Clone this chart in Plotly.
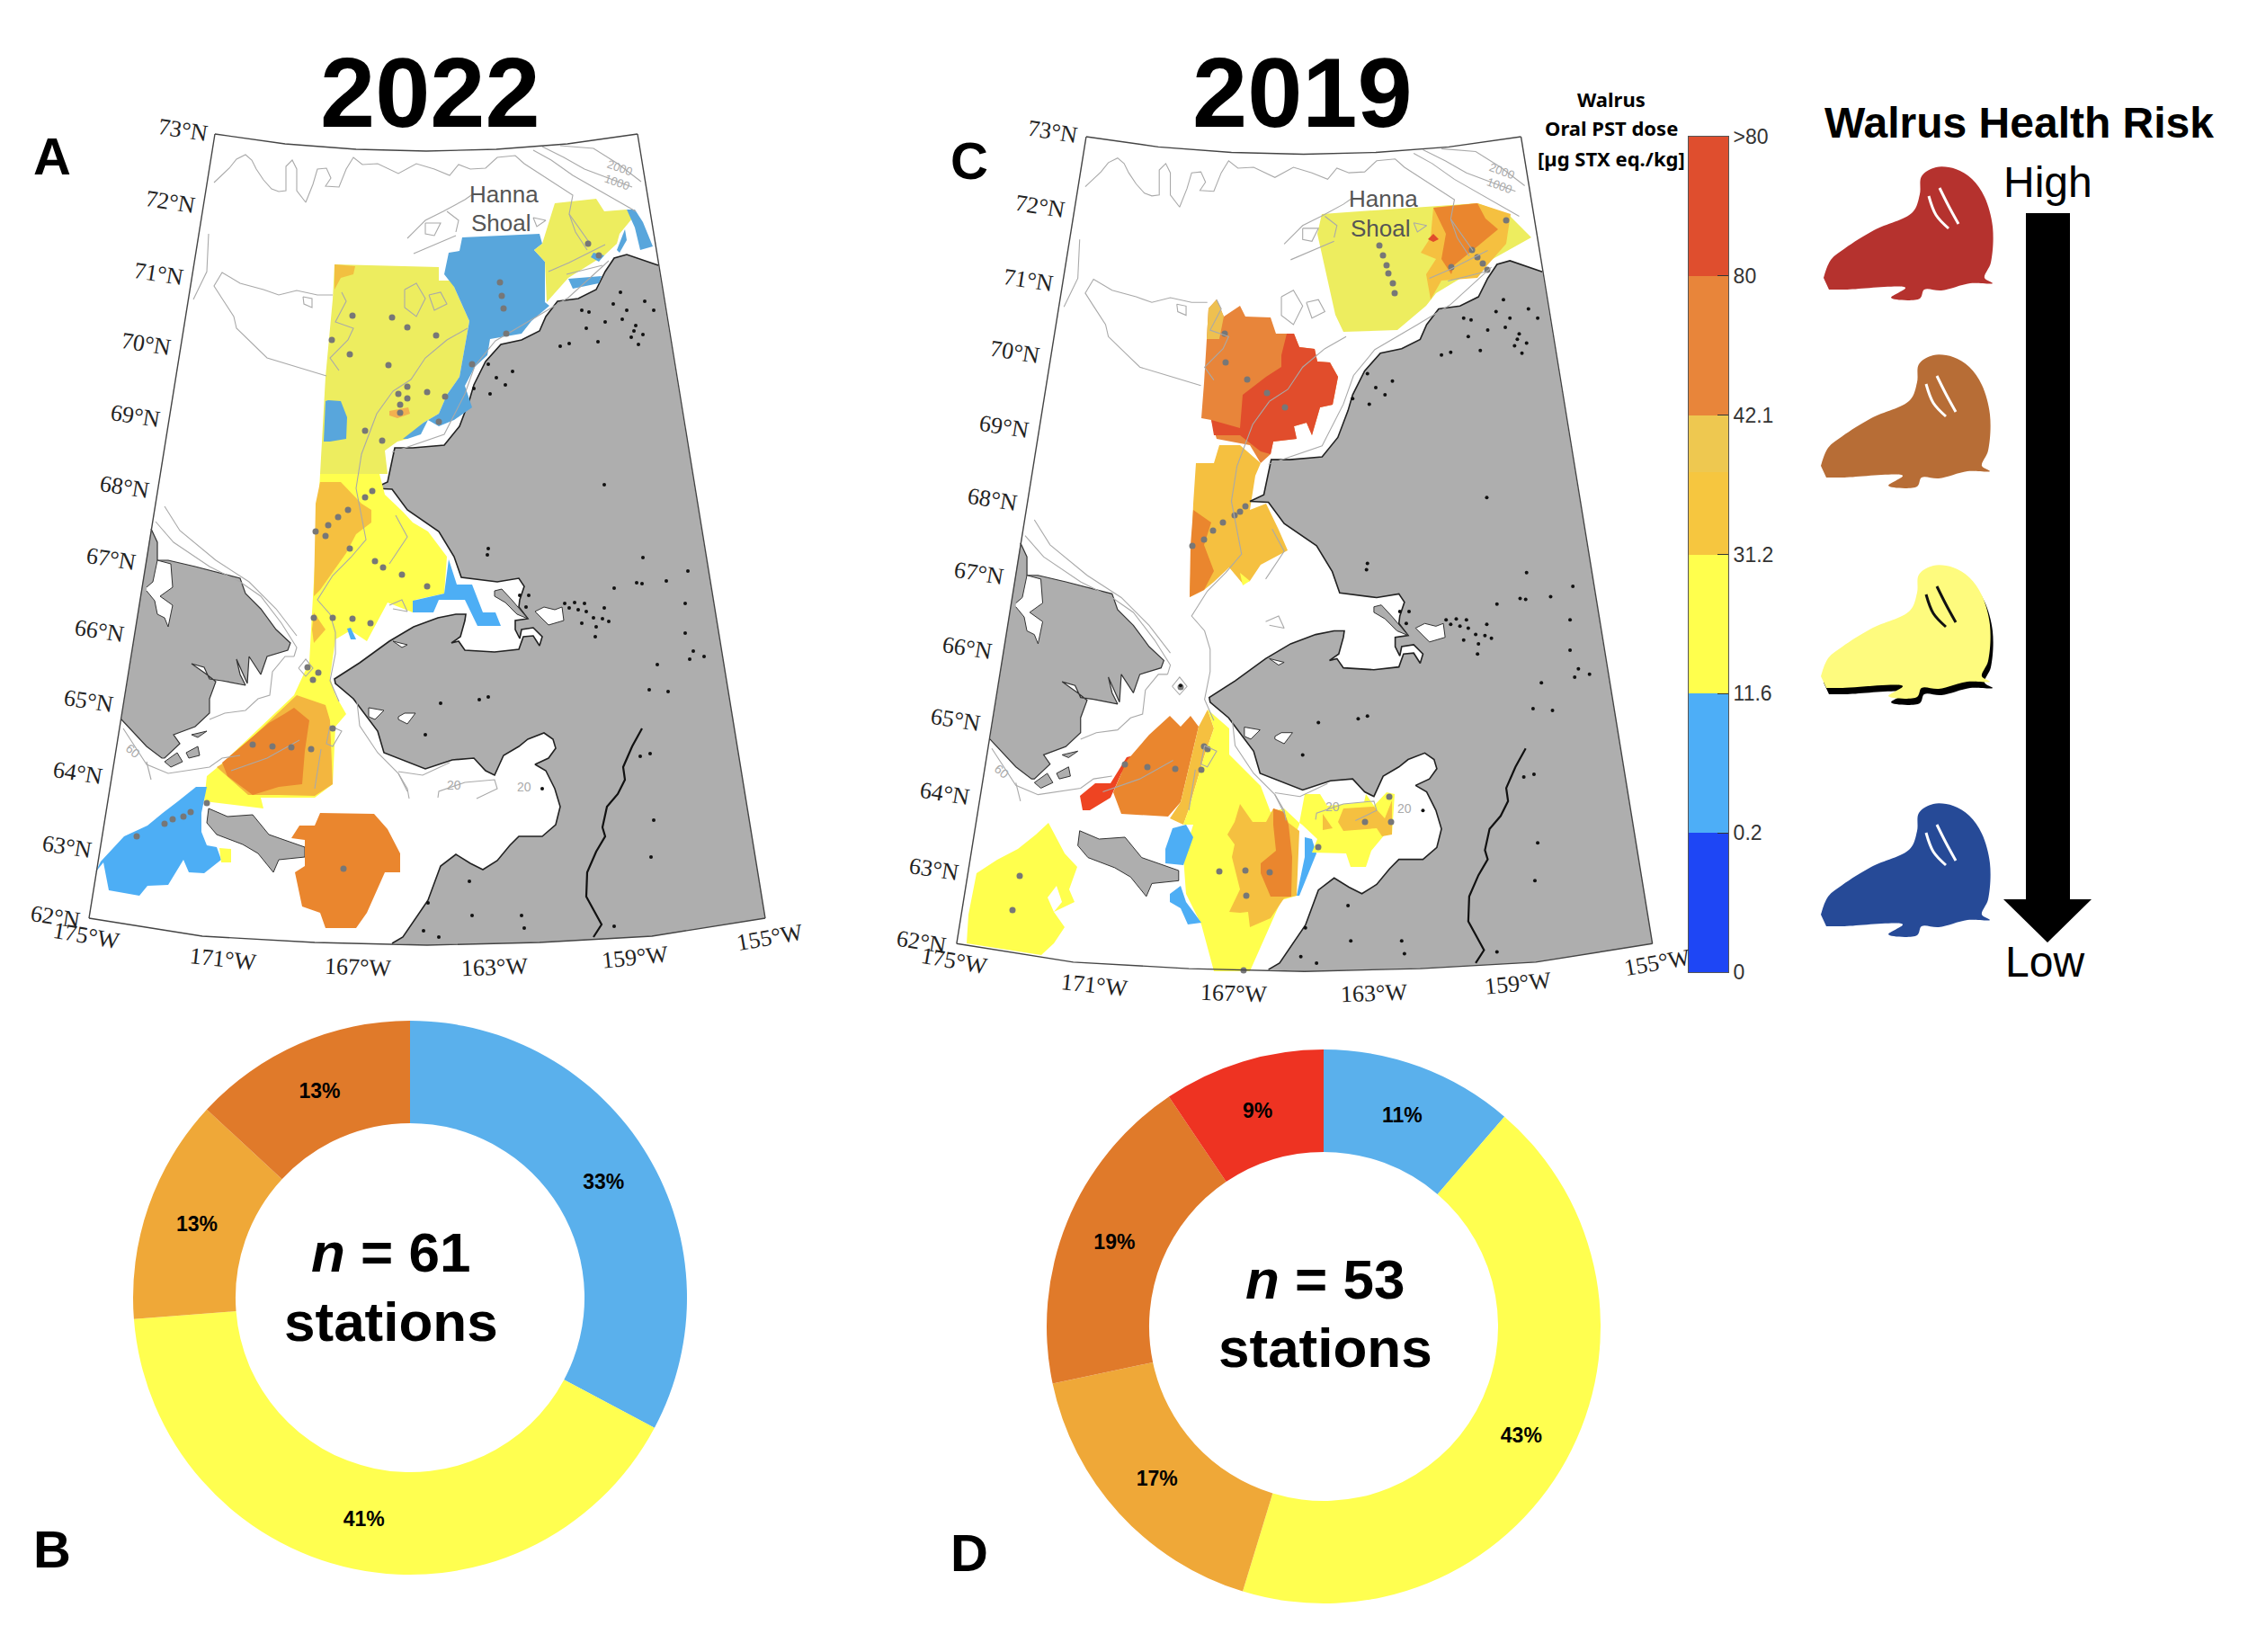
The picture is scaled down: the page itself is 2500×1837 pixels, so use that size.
import plotly.graph_objects as go

# map plane: pixels of the 2022 map, the 2019 map reuses the base through xaxis2/yaxis2
FRAME_TOP = [(239,149),(317,160),(396,166),(474,168),(552,166),(631,160),(709,149)]
FRAME_RIGHT = [(709,149),(851,1021)]
FRAME_BOTTOM = [(851,1021),(725,1041),(600,1048),(475,1051),(350,1048),(225,1041),(99,1021)]
FRAME_LEFT = [(99,1021),(239,149)]

ALASKA = [(732,295),(697,283),(683,287),(673,302),(663,322),(643,332),(620,335),(607,352),(600,368),(580,378),
          (557,383),(540,402),(527,428),(522,445),(511,474),(494,495),(459,498),(439,498),(431,536),(416,543),
          (436,544),(453,567),(488,591),(505,619),(513,642),(553,647),(577,643),(583,652),(578,667),(577,675),
          (587,688),(573,690),(573,700),(578,710),(580,700),(593,698),(603,708),(600,718),(593,707),(582,708),
          (577,722),(550,725),(517,723),(510,713),(502,715),(512,708),(517,690),(518,683),(507,683),(487,687),
          (460,697),(433,713),(400,737),(372,755),(373,760),(393,777),(420,813),(427,837),(473,855),(503,845),
          (527,843),(540,857),(550,862),(560,840),(577,830),(587,822),(605,815),(615,822),(618,832),(610,843),
          (595,850),(607,857),(617,877),(623,897),(618,917),(603,930),(577,930),(567,940),(553,957),(537,967),
          (523,960),(507,950),(490,963),(480,990),(476,1001),(448,1042),(436,1049),(475,1051),(600,1048),
          (725,1041),(851,1021)]
BALDWIN = [(550,657),(558,655),(570,668),(587,688),(575,683),(562,670),(550,663)]
SELAWIK_LAKE = [(595,680),(605,675),(617,678),(625,675),(627,690),(610,695)]
SEWARD_LAKE_1 = [(410,787),(427,790),(417,800),(410,797)]
SEWARD_LAKE_2 = [(443,797),(450,793),(462,793),(453,805),(443,800)]
SEWARD_LAKE_3 = [(437,713),(453,717),(447,720)]
CHUKOTKA = [(168,588),(175,603),(175,623),(187,623),(217,630),(247,638),(267,643),(273,660),(290,677),(307,700),
            (323,715),(320,723),(297,730),(290,750),(277,730),(275,760),(263,733),(267,750),(273,762),(247,757),
            (233,755),(227,742),(213,738),(230,750),(240,758),(233,777),(233,793),(217,808),(193,817),(200,827),
            (183,843),(180,843),(163,830),(135,800)]
KOLYUCHIN_BAY = [(163,653),(170,647),(175,623),(190,627),(192,653),(178,663),(192,673),(187,697),(183,687),(175,683),
                 (172,668),(163,657)]
ANADYR_ISLAND_1 = [(183,847),(197,837),(203,847),(190,853)]
ANADYR_ISLAND_2 = [(207,837),(220,830),(222,840),(210,843)]
ANADYR_ISLAND_3 = [(213,817),(230,813),(220,820)]
ST_LAWRENCE = [(232,899),(253,908),(281,906),(299,928),(339,942),(339,953),(310,956),(304,970),(287,949),(270,939),
               (241,928),(230,915)]
YUKON = [(714,810),(703,830),(693,853),(695,867),(687,883),(675,897),(670,920),(673,930),(663,947),(653,970),(652,997),
         (669,1028),(660,1042)]

CONTOURS = [
    [(238,203),(255,187),(263,177),(273,172),(280,178),(285,188),(293,200),(302,210),(310,213),(318,212),(318,185),
     (325,178),(330,188),(330,212),(340,225),(348,205),(353,188),(363,187),(368,198),(362,207),(377,208),(385,188),
     (393,175),(403,183),(420,182),(443,193),(463,182),(483,188),(500,195),(510,183),(523,188),(540,187),(553,175),
     (573,173),(583,182),(603,195),(623,208),(637,217),(633,238),(640,258),(653,278)],
    [(593,167),(613,178),(637,195),(660,208),(690,225),(707,235)],
    [(603,163),(627,175),(650,188),(677,198),(703,208)],
    [(623,162),(660,165),(687,182),(713,202)],
    [(370,328),(353,328),(330,323),(310,328),(293,322),(267,315),(247,303),(238,318),(247,332),(260,352),(263,365),
     (280,382),(297,398),(330,408),(363,418)],
    [(337,330),(347,332),(347,342),(338,338),(337,330)],
    [(453,265),(473,245),(493,235),(517,222),(527,215)],
    [(460,282),(483,272),(507,262)],
    [(473,248),(490,248),(483,262),(473,260),(473,248)],
    [(497,235),(510,245),(507,258)],
    [(593,242),(607,245),(597,252),(593,242)],
    [(380,325),(385,335),(373,358),(393,365),(387,378),(367,398),(377,412)],
    [(450,322),(463,315),(473,332),(463,352),(450,342),(450,322)],
    [(477,328),(490,325),(497,338),(483,345),(477,328)],
    [(520,365),(497,378),(473,398),(457,422),(437,435)],
    [(232,260),(230,302),(215,333)],
    [(633,238),(647,258),(657,272)],
    [(610,302),(633,292),(673,272)],
    [(630,305),(670,295)],
    [(677,290),(632,331),(597,352),(551,379),(528,407),(517,438),(494,483),(453,497),(436,503)],
    [(437,435),(419,460),(402,505),(396,543),(407,600),(390,620),(370,640),(353,667),(367,683),(373,703),(373,727),
     (367,757),(377,780)],
    [(433,627),(453,597),(440,573)],
    [(433,673),(447,667),(453,680),(437,677)],
    [(173,580),(193,603),(233,630),(267,647),(290,663),(313,693),(330,720),(327,730)],
    [(183,563),(200,590),(240,623),(277,647),(307,677),(330,707)],
    [(233,800),(250,793),(273,790),(287,777),(300,773),(303,747),(317,730),(327,730)],
    [(137,810),(163,850),(187,860),(233,853),(247,843),(267,840)],
    [(163,847),(168,867)],
    [(257,857),(297,843),(333,823)],
    [(357,833),(353,860),(350,877)],
    [(397,780),(400,807),(420,837),(443,860),(453,880)],
    [(367,807),(380,813),(370,830),(363,827),(367,807)],
    [(332,743),(340,733),(348,743),(340,752),(332,743)],
    [(487,887),(488,880),(517,870),(550,867),(553,877),(530,888)],
    [(443,860),(453,877),(455,888)],
    [(443,858),(470,862),(500,848)],
]
ISLET_X = [543,542,715,765,741,708,714,683,762,628,639,650,672,633,643,652,660,670,677,647,663,662,762,771,767,783,
           731,722,743,490,473,712,723,727,724,533,543,603,578,588,585,471,476,488,522,525,580,583,683,647,655,682,
           697,673,692,652,623,633,665,702,710,705,717,727,690,707,715,570,562,552,543,545,527,672,341]
ISLET_Y = [610,617,620,635,646,648,649,654,671,671,670,671,676,676,678,680,687,688,691,693,697,708,704,724,733,730,
           739,767,769,782,817,841,838,912,953,778,775,877,662,662,675,1035,1004,1042,980,1018,1018,1032,1030,345,347,
           338,345,358,355,365,385,382,380,375,383,368,335,345,325,362,372,413,428,420,405,438,432,539,742]

# 2022 regions, pixels of the left map
A_GREEN = [(372,294),(488,297),(488,312),(502,312),(505,319),(522,357),(511,419),(497,439),(488,460),(471,470),
           (453,488),(442,491),(428,501),(431,527),(356,527),(362,419),(370,333)]
A_GREEN_TOPLEFT = [(372,294),(395,296),(393,305),(379,309),(372,322)]
A_SPOT = [(433,457),(454,453),(456,460),(442,465),(433,462)]
A_BLUE_LEFT = [(365,445),(379,446),(386,464),(385,488),(367,491),(360,491),(362,446)]
A_BLUE_MAIN = [(514,264),(600,260),(603,271),(594,278),(606,291),(606,336),(611,340),(591,357),(580,371),(545,377),
               (542,395),(528,408),(517,429),(525,453),(505,467),(488,474),(476,467),(468,483),(453,488),(448,488),
               (471,470),(488,460),(497,439),(511,419),(522,357),(505,319),(494,305),(499,281),(511,279)]
A_GREEN_NE = [(617,226),(663,221),(672,235),(697,233),(703,243),(689,260),(686,271),(672,284),(632,309),(617,326),
              (608,336),(606,291),(594,278),(603,271)]
A_BLUE_NE1 = [(632,310),(669,307),(666,315),(637,321)]
A_BLUE_NE2 = [(697,233),(706,233),(715,247),(726,274),(712,278),(706,253)]
A_BLUE_NE3 = [(695,255),(697,267),(689,281),(686,278)]
A_BLUE_NE4 = [(660,281),(672,284),(666,291),(657,286)]
A_YELLOW = [(356,527),(422,527),(428,550),(448,569),(459,581),(476,591),(497,619),(494,660),(462,667),(459,681),
            (431,670),(416,698),(408,713),(390,701),(373,711),(367,753),(373,773),(385,794),(373,808),(370,872),
            (350,887),(359,901),(350,887),(290,887),(293,899),(227,891),(230,863),(247,849),(327,773),(344,736),
            (347,681)]
A_AMBER_NORTH = [(356,536),(379,536),(402,560),(413,567),(413,581),(396,594),(385,615),(356,656),(349,663),(351,560)]
A_AMBER_STRIP = [(349,681),(362,700),(349,715),(347,700)]
A_AMBER_SOUTH = [(330,773),(362,784),(367,801),(370,872),(350,885),(310,884),(276,884),(241,853),(253,846)]
A_ORANGE_STRAIT = [(327,787),(344,801),(339,835),(336,872),(310,875),(281,884),(253,863),(247,848),(299,804),(316,794)]
A_BLUE_SW = [(218,875),(230,875),(224,904),(224,925),(230,940),(241,942),(246,956),(227,971),(210,970),(204,956),
             (187,984),(164,985),(155,996),(121,990),(115,959),(106,970),(112,958),(123,946),(138,930),(164,918),
             (181,904),(198,891)]
A_YELLOW_TIP = [(244,943),(257,944),(257,959),(246,959)]
A_ORANGE_SOUTH = [(356,904),(416,905),(431,922),(445,949),(445,970),(428,970),(408,1015),(396,1032),(362,1032),
                  (356,1015),(336,1008),(328,970),(339,963),(339,934),(324,932),(333,918),(350,918)]
A_BLUE_KOTZEBUE = [(499,622),(494,660),(459,668),(459,681),(482,681),(488,667),(517,667),(531,696),(557,696),
                   (551,681),(537,681),(525,650),(508,650)]
A_BLUE_SMALL = [(386,699),(390,698),(396,711),(390,711)]

A_STATION_X = [556,558,560,563,392,436,453,485,369,389,432,453,443,453,475,495,445,445,406,425,525,488,654,666,406,
               387,376,414,365,351,362,389,417,426,447,475,349,370,392,412,354,348,281,303,324,346,370,230,212,204,
               192,183,152,382,342]
A_STATION_Y = [314,329,343,371,351,353,364,373,378,394,406,430,438,443,436,441,450,459,479,490,405,469,271,284,553,
               567,575,546,584,591,596,610,624,631,639,652,687,687,688,693,748,756,828,830,831,833,810,893,903,908,
               911,916,930,966,742]

# 2019 regions, pixels of the right map
C_GREEN_NE = [(1470,238),(1643,226),(1677,238),(1703,264),(1660,288),(1597,326),(1586,340),(1554,367),(1494,369),
              (1485,350),(1465,260)]
C_AMBER_NE = [(1594,231),(1643,226),(1680,238),(1675,271),(1654,295),(1643,309),(1603,312),(1591,333),(1586,305),
              (1597,288),(1580,281),(1591,264)]
C_ORANGE_NE = [(1594,231),(1643,226),(1652,243),(1666,255),(1643,274),(1617,295),(1614,305),(1603,288),(1608,260)]
C_RED_NE = [(1594,260),(1600,266),(1594,269),(1588,266)]
C_ORANGE_MID = [(1353,333),(1361,352),(1379,340),(1385,352),(1413,353),(1419,371),(1439,371),(1445,386),(1462,388),
                (1465,402),(1479,403),(1488,419),(1482,450),(1468,453),(1459,484),(1453,470),(1439,474),(1442,488),
                (1416,491),(1413,505),(1402,515),(1390,495),(1353,488),(1347,467),(1336,465),(1339,426),(1342,377),
                (1344,343)]
C_RED_MID = [(1431,371),(1439,371),(1445,386),(1462,388),(1465,402),(1479,403),(1488,419),(1482,450),(1468,453),
             (1459,484),(1453,470),(1439,474),(1442,488),(1416,491),(1413,505),(1402,502),(1379,484),(1350,484),
             (1347,467),(1379,476),(1382,439),(1408,419),(1425,408),(1425,395)]
C_AMBER_TOP = [(1353,333),(1361,352),(1356,377),(1342,377),(1344,343)]
C_AMBER_MID = [(1356,495),(1379,495),(1402,515),(1396,529),(1390,567),(1408,560),(1422,589),(1432,612),(1402,628),
               (1390,646),(1382,649),(1367,631),(1350,647),(1339,656),(1323,664),(1327,560),(1330,515),(1350,515)]
C_ORANGE_STRIP = [(1327,567),(1347,581),(1339,606),(1350,635),(1339,656),(1323,664),(1324,606)]
C_YELLOW_BIT = [(1379,637),(1390,646),(1382,651)]
C_RED_STRAIT = [(1253,842),(1261,840),(1247,860),(1235,887),(1212,901),(1204,901),(1201,885),(1218,871),(1235,871)]
C_ORANGE_STRAIT = [(1301,796),(1313,808),(1324,796),(1333,808),(1313,892),(1299,908),(1247,905),(1238,881),
                   (1253,846),(1278,817)]
C_AMBER_STRAIT = [(1343,789),(1350,810),(1339,842),(1321,903),(1316,917),(1301,910),(1313,892),(1333,808)]
C_YELLOW_CENTER = [(1343,789),(1367,810),(1367,839),(1402,874),(1413,903),(1428,899),(1445,915),(1445,917),
                   (1436,939),(1442,996),(1425,1001),(1390,1080),(1350,1080),(1336,1028),(1319,994),(1316,953),
                   (1327,917),(1316,917),(1321,903),(1339,842),(1350,810)]
C_AMBER_CENTER = [(1379,894),(1393,914),(1408,914),(1416,899),(1428,903),(1433,915),(1445,924),(1442,996),(1428,999),
                  (1413,1021),(1390,1031),(1388,1014),(1379,1015),(1367,1014),(1379,989),(1370,953),(1373,939),
                  (1365,928),(1373,914)]
C_ORANGE_CENTER = [(1416,899),(1428,903),(1433,917),(1437,953),(1436,997),(1413,997),(1402,971),(1402,960),(1419,946),
                   (1416,917)]
C_BLUE_STRIP = [(1451,931),(1459,933),(1464,949),(1445,996),(1442,996),(1451,953)]
C_BLUE_LEFT = [(1304,921),(1319,917),(1327,931),(1316,962),(1296,960),(1296,944)]
C_BLUE_LOWER = [(1313,985),(1319,1003),(1336,1026),(1321,1028),(1313,1010),(1301,1003),(1301,994)]
C_YELLOW_EAST = [(1451,883),(1468,883),(1476,896),(1517,892),(1519,883),(1528,896),(1542,881),(1551,883),(1548,928),
                 (1540,928),(1525,946),(1519,964),(1502,964),(1497,949),(1459,948),(1465,933),(1448,917),(1445,915)]
C_AMBER_EAST = [(1494,899),(1528,897),(1540,910),(1548,890),(1548,928),(1537,930),(1531,921),(1494,924),(1488,914)]
C_AMBER_EAST2 = [(1471,905),(1482,921),(1471,923)]
C_YELLOW_SW = [(1166,915),(1184,949),(1198,964),(1189,989),(1195,1003),(1172,1014),(1184,1031),(1172,1049),(1158,1062),
               (1075,1049),(1077,1017),(1086,971),(1109,956),(1132,944),(1152,928)]
C_SW_HOLE = [(1175,985),(1181,1003),(1172,1014),(1165,998)]

C_STATION_X = [1534,1538,1542,1544,1549,1551,1675,1637,1643,1649,1654,1614,1362,1363,1387,1409,1429,1385,1379,1373,
               1360,1349,1339,1326,1339,1343,1336,1307,1276,1251,1518,1547,1545,1466,1356,1385,1412,1386,1134,1126,
               1313,1383]
C_STATION_Y = [273,284,295,304,315,326,245,278,286,293,300,297,371,403,422,437,453,563,569,573,581,590,600,607,830,
               833,856,855,853,850,914,914,886,942,969,968,970,996,974,1012,764,1079]

LAT_LABELS = ["73°N","72°N","71°N","70°N","69°N","68°N","67°N","66°N","65°N","64°N","63°N","62°N"]
LAT_X = [203,189,176,162,150,138,123,110,98,86,74,61]
LAT_Y = [144,224,304,382,462,541,621,701,779,859,941,1019]
LON_LABELS = ["175°W","171°W","167°W","163°W","159°W","155°W"]
LON_X = [96,248,398,550,706,856]
LON_Y = [1040,1066,1075,1075,1064,1042]
LON_ANGLE = [10,6,2,-2,-6,-10]

# station counts behind the donut shares
PIE_LABELS_2022 = ["0.2-11.6", "11.6-31.2", "31.2-42.1", "42.1-80"]
PIE_2022 = [20, 25, 8, 8]
PIE_LABELS_2019 = ["0.2-11.6", "11.6-31.2", "31.2-42.1", "42.1-80", ">80"]
PIE_2019 = [6, 23, 9, 10, 5]

CBAR_STEPS = [1, 1, 1, 0.59, 0.41, 1, 1]
CBAR_TICKS = ["0", "0.2", "11.6", "31.2", "42.1", "80", ">80"]

WALRUS = [(0,123),(8,103),(24,90),(56,70),(99,50),(107,30),(109,10),(125,0),(147,2),(165,13),(179,33),(188,66),
          (186,106),(179,123),(188,129),(163,129),(131,137),(112,136),(107,146),(75,145),(91,134),(24,136),(6,136)]
TUSK_1 = [(117,32),(125,53),(139,68)]
TUSK_2 = [(129,23),(139,43),(150,63)]
WALRUS_LEFT = [2028,2025,2025,2025]
WALRUS_TOP = [186,395,629,894]
ARROW = [(2253,237),(2302,237),(2302,1000),(2326,1000),(2277,1048),(2228,1000),(2253,1000)]

BLUE = "#4DAEF5"
MAP_BLUE = "#58A6DC"
GREEN = "#EDED5F"
YELLOW = "#FFFF4D"
AMBER = "#F5C040"
ORANGE = "#EA862E"
RED = "#E14D2C"
LAND = "#AEAEAE"

fig = go.Figure()


def poly(points, color, xa="x", ya="y", shape="linear"):
    fig.add_trace(go.Scatter(x=[p[0] for p in points], y=[p[1] for p in points], mode="lines", fill="toself",
                             fillcolor=color, line=dict(width=0, shape=shape), xaxis=xa, yaxis=ya, hoverinfo="skip"))


def line(points, color, width, xa="x", ya="y", shape="linear"):
    fig.add_trace(go.Scatter(x=[p[0] for p in points], y=[p[1] for p in points], mode="lines",
                             line=dict(color=color, width=width, shape=shape), xaxis=xa, yaxis=ya, hoverinfo="skip"))


def base_land(xa, ya):
    poly(ALASKA, LAND, xa, ya)
    line(ALASKA[:-4], "#222222", 1.6, xa, ya)
    for lake in (SELAWIK_LAKE, SEWARD_LAKE_1, SEWARD_LAKE_2, SEWARD_LAKE_3):
        poly(lake, "white", xa, ya)
        line(lake + lake[:1], "#333333", 1, xa, ya)
    poly(BALDWIN, LAND, xa, ya)
    line(BALDWIN + BALDWIN[:1], "#333333", 1, xa, ya)
    poly(CHUKOTKA, LAND, xa, ya)
    line(CHUKOTKA, "#333333", 1.2, xa, ya)
    poly(KOLYUCHIN_BAY, "white", xa, ya)
    line(KOLYUCHIN_BAY, "#333333", 1, xa, ya)
    for isl in (ANADYR_ISLAND_1, ANADYR_ISLAND_2, ANADYR_ISLAND_3, ST_LAWRENCE):
        poly(isl, LAND, xa, ya)
        line(isl + isl[:1], "#333333", 1, xa, ya)
    line(YUKON, "#111111", 2.2, xa, ya)


def base_lines(xa, ya):
    for c in CONTOURS:
        line(c, "#A9A9A9", 1.1, xa, ya)
    fig.add_trace(go.Scatter(x=ISLET_X, y=ISLET_Y, mode="markers", marker=dict(color="#111111", size=4),
                             xaxis=xa, yaxis=ya, hoverinfo="skip"))
    for f in (FRAME_TOP, FRAME_RIGHT, FRAME_BOTTOM, FRAME_LEFT):
        line(f, "#444444", 1.4, xa, ya)


# 2022 map
base_land("x", "y")
for pts, col in [(A_GREEN, GREEN), (A_GREEN_TOPLEFT, "#F2C040"), (A_SPOT, "#F2B050"), (A_BLUE_LEFT, MAP_BLUE),
                 (A_BLUE_MAIN, MAP_BLUE), (A_GREEN_NE, GREEN), (A_BLUE_NE1, MAP_BLUE), (A_BLUE_NE2, MAP_BLUE),
                 (A_BLUE_NE3, MAP_BLUE), (A_BLUE_NE4, MAP_BLUE), (A_YELLOW, YELLOW), (A_AMBER_NORTH, AMBER),
                 (A_AMBER_STRIP, AMBER), (A_AMBER_SOUTH, "#F3B63F"), (A_ORANGE_STRAIT, ORANGE), (A_BLUE_SW, BLUE),
                 (A_YELLOW_TIP, YELLOW), (A_ORANGE_SOUTH, ORANGE), (A_BLUE_KOTZEBUE, BLUE), (A_BLUE_SMALL, BLUE)]:
    poly(pts, col)
base_lines("x", "y")
fig.add_trace(go.Scatter(x=A_STATION_X, y=A_STATION_Y, mode="markers", marker=dict(color="#777777", size=7),
                         hoverinfo="skip"))

# 2019 map: regions sit in the lower layer, base lines come on top through x2/y2
for pts, col in [(C_GREEN_NE, GREEN), (C_AMBER_NE, AMBER), (C_ORANGE_NE, ORANGE), (C_RED_NE, RED),
                 (C_ORANGE_MID, "#E8853A"), (C_RED_MID, RED), (C_AMBER_TOP, "#EEC050"), (C_AMBER_MID, AMBER),
                 (C_ORANGE_STRIP, ORANGE), (C_YELLOW_BIT, YELLOW), (C_RED_STRAIT, "#EE4422"),
                 (C_ORANGE_STRAIT, ORANGE), (C_AMBER_STRAIT, AMBER), (C_YELLOW_CENTER, YELLOW),
                 (C_AMBER_CENTER, AMBER), (C_ORANGE_CENTER, ORANGE), (C_BLUE_STRIP, BLUE), (C_BLUE_LEFT, BLUE),
                 (C_BLUE_LOWER, BLUE), (C_YELLOW_EAST, YELLOW), (C_AMBER_EAST, AMBER), (C_AMBER_EAST2, AMBER),
                 (C_YELLOW_SW, YELLOW), (C_SW_HOLE, "white")]:
    poly(pts, col)
fig.add_trace(go.Scatter(x=C_STATION_X, y=C_STATION_Y, mode="markers", marker=dict(color="#777777", size=7),
                         hoverinfo="skip"))
base_land("x2", "y2")
base_lines("x2", "y2")

# colour bar
bar_colors = ["#1E46F5", "#4DAEF7", "#FFFF4D", "#F6C63F", "#EEC850", "#E8853A", "#DF4E2E"]
for v, c in zip(CBAR_STEPS, bar_colors):
    fig.add_trace(go.Bar(x=[0], y=[v], marker=dict(color=c, line=dict(width=0)), width=1, xaxis="x3", yaxis="y3",
                         hoverinfo="skip"))

# walrus column
walrus_colors = ["#B5322E", "#B76D36", "#FEFB7E", "#264A97"]
tusk_colors = ["white", "white", "#111111", "white"]
for left, top, col, tc in zip(WALRUS_LEFT, WALRUS_TOP, walrus_colors, tusk_colors):
    if col == "#FEFB7E":
        poly([(p[0] + left + 3, p[1] + top + 7) for p in WALRUS], "#000000", shape="spline")
    poly([(p[0] + left, p[1] + top) for p in WALRUS], col, shape="spline")
    line([(p[0] + left, p[1] + top) for p in TUSK_1], tc, 3, shape="spline")
    line([(p[0] + left, p[1] + top) for p in TUSK_2], tc, 3, shape="spline")
poly(ARROW, "#000000")

# donuts
fig.add_trace(go.Pie(labels=PIE_LABELS_2022, values=PIE_2022, sort=False, direction="clockwise", rotation=0, hole=0.63,
                     marker=dict(colors=["#5AB0EC", "#FFFF50", "#EFA838", "#E07A2A"], line=dict(width=0)),
                     texttemplate="%{percent:.0%}", textposition="inside", insidetextorientation="horizontal",
                     textfont=dict(family="Liberation Sans", size=23, color="black", weight="bold"),
                     domain=dict(x=[(456 - 308) / 2500, (456 + 308) / 2500],
                                 y=[1 - (1443 + 308) / 1837, 1 - (1443 - 308) / 1837]),
                     hoverinfo="skip", showlegend=False))
fig.add_trace(go.Pie(labels=PIE_LABELS_2019, values=PIE_2019, sort=False, direction="clockwise", rotation=0, hole=0.63,
                     marker=dict(colors=["#5AB0EC", "#FFFF50", "#EFA838", "#E07A2A", "#EE3322"], line=dict(width=0)),
                     texttemplate="%{percent:.0%}", textposition="inside", insidetextorientation="horizontal",
                     textfont=dict(family="Liberation Sans", size=23, color="black", weight="bold"),
                     domain=dict(x=[(1472 - 308) / 2500, (1472 + 308) / 2500],
                                 y=[1 - (1475 + 308) / 1837, 1 - (1475 - 308) / 1837]),
                     hoverinfo="skip", showlegend=False))

notes = []


def note(text, x, y, size, family="Liberation Sans", color="black", angle=0, xa="x", ya="y"):
    notes.append(dict(text=text, x=x, y=y, xref=xa, yref=ya, showarrow=False, textangle=angle, xanchor="center",
                      yanchor="middle", font=dict(family=family, size=size, color=color)))


for xa, ya in (("x", "y"), ("x2", "y2")):
    for lab, lx, ly in zip(LAT_LABELS, LAT_X, LAT_Y):
        note(lab, lx, ly, 26, "Liberation Serif", "#222222", 9, xa, ya)
    for lab, lx, ly, la in zip(LON_LABELS, LON_X, LON_Y, LON_ANGLE):
        note(lab, lx, ly, 26, "Liberation Serif", "#222222", la, xa, ya)
    note("Hanna", 560, 216, 26, "Liberation Sans", "#555555", 0, xa, ya)
    note("Shoal", 557, 248, 26, "Liberation Sans", "#555555", 0, xa, ya)
    note("2000", 689, 186, 13, "Liberation Sans", "#AAAAAA", 20, xa, ya)
    note("1000", 686, 202, 13, "Liberation Sans", "#AAAAAA", 20, xa, ya)
    note("20", 505, 873, 14, "Liberation Sans", "#AAAAAA", 0, xa, ya)
    note("20", 583, 875, 14, "Liberation Sans", "#AAAAAA", 0, xa, ya)
    note("60", 148, 835, 14, "Liberation Sans", "#AAAAAA", 40, xa, ya)

note("<b>2022</b>", 478, 102, 110)
note("<b>2019</b>", 1448, 102, 110)
note("<b>A</b>", 58, 173, 58)
note("<b>B</b>", 58, 1722, 58)
note("<b>C</b>", 1078, 178, 58)
note("<b>D</b>", 1078, 1726, 58)
note("<b><i>n</i> = 61</b>", 435, 1392, 62)
note("<b>stations</b>", 435, 1469, 62)
note("<b><i>n</i> = 53</b>", 1474, 1422, 62)
note("<b>stations</b>", 1474, 1498, 62)
note("<b>Walrus</b>", 1792, 110, 22, "Noto Sans")
note("<b>Oral PST dose</b>", 1792, 142, 22, "Noto Sans")
note("<b>[µg STX eq./kg]</b>", 1792, 176, 22, "Noto Sans")
note("<b>Walrus Health Risk</b>", 2245, 136, 48)
note("High", 2277, 202, 48)
note("Low", 2274, 1069, 48)

hidden = dict(visible=False, fixedrange=True)
# x2/y2 ranges place the 2022 base map at the 2019 panel: 1.029 times larger
fig.update_layout(
    width=2500, height=1837, autosize=False, showlegend=False, barmode="stack",
    margin=dict(l=0, r=0, t=0, b=0, autoexpand=False), paper_bgcolor="white", plot_bgcolor="rgba(0,0,0,0)",
    annotations=notes,
    xaxis=dict(range=[0, 2500], domain=[0, 1], **hidden),
    yaxis=dict(range=[1837, 0], domain=[0, 1], **hidden),
    xaxis2=dict(range=[-934.9, 1494.7], domain=[0, 1], anchor="y2", **hidden),
    yaxis2=dict(range=[1786.5, 1.26], domain=[0, 1], anchor="x2", **hidden),
    xaxis3=dict(range=[-0.5, 0.5], domain=[1878 / 2500, 1922 / 2500], anchor="y3", showticklabels=False, ticks="",
                showgrid=False, zeroline=False, showline=True, linecolor="#555555", linewidth=1, mirror=True,
                fixedrange=True),
    yaxis3=dict(range=[0, 6], domain=[1 - 1081 / 1837, 1 - 152 / 1837], anchor="x3", side="right",
                tickmode="array", tickvals=[0, 1, 2, 3, 4, 5, 6], ticktext=CBAR_TICKS, ticks="inside", ticklen=12,
                tickcolor="#333333", tickfont=dict(family="Liberation Sans", size=23, color="#333333"),
                showgrid=False, zeroline=False, showline=True, linecolor="#555555", linewidth=1, mirror=True,
                fixedrange=True),
)

fig.write_html("out.html", config={"displayModeBar": False}, post_script="document.body.style.margin='0';")
